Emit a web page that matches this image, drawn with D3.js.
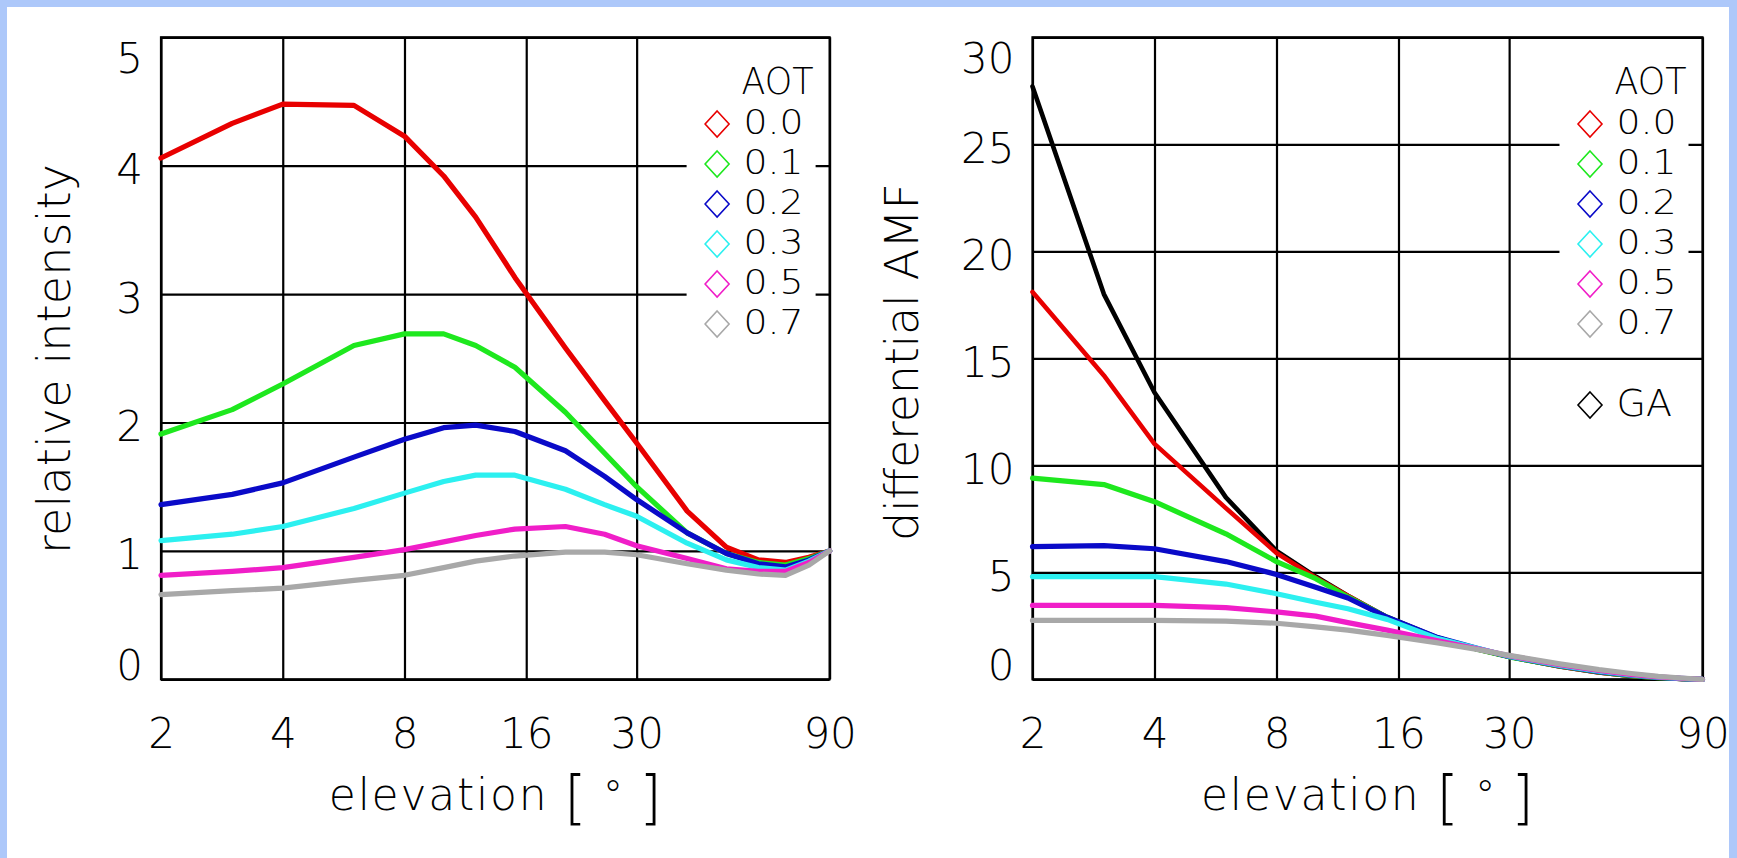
<!DOCTYPE html>
<html><head><meta charset="utf-8">
<script src="https://cdn.jsdelivr.net/npm/d3@7"></script>
<style>html,body{margin:0;padding:0;background:#fff;overflow:hidden}</style>
</head><body>
<svg id="c" width="1737" height="858"></svg>
<script>
// ---------- data ----------
const elevations = [2, 3, 4, 6, 8, 10, 12, 15, 20, 25, 30, 40, 50, 60, 70, 80, 90];
const xTickValues = [2, 4, 8, 16, 30, 90];
const aotLabels = ["0.0", "0.1", "0.2", "0.3", "0.5", "0.7"];
const aotColors = ["#e80000", "#1ee81e", "#0a0ac8", "#2cf0f0", "#f01ec8", "#a8a8a8"];

// left panel: relative intensity
const relInt_AOT00 = [4.06, 4.33, 4.48, 4.47, 4.23, 3.92, 3.60, 3.13, 2.58, 2.17, 1.84, 1.31, 1.03, 0.93, 0.91, 0.95, 1.00];
const relInt_AOT01 = [1.91, 2.10, 2.30, 2.60, 2.69, 2.69, 2.60, 2.43, 2.08, 1.76, 1.50, 1.14, 0.98, 0.91, 0.89, 0.94, 1.00];
const relInt_AOT02 = [1.36, 1.44, 1.53, 1.73, 1.87, 1.96, 1.98, 1.93, 1.78, 1.58, 1.40, 1.14, 0.98, 0.90, 0.875, 0.93, 1.00];
const relInt_AOT03 = [1.08, 1.13, 1.19, 1.33, 1.45, 1.54, 1.59, 1.59, 1.48, 1.36, 1.27, 1.06, 0.93, 0.87, 0.85, 0.92, 1.00];
const relInt_AOT05 = [0.81, 0.84, 0.87, 0.95, 1.01, 1.07, 1.12, 1.17, 1.19, 1.13, 1.04, 0.94, 0.86, 0.84, 0.84, 0.91, 1.00];
const relInt_AOT07 = [0.66, 0.69, 0.71, 0.77, 0.81, 0.87, 0.92, 0.96, 0.99, 0.99, 0.97, 0.90, 0.85, 0.82, 0.81, 0.89, 1.00];
const relIntTicks = [0, 1, 2, 3, 4, 5];

// right panel: differential AMF
const dAMF_GA    = [27.7, 18.0, 13.4, 8.5, 6.0, 4.8, 3.9, 2.9, 1.95, 1.4, 1.05, 0.6, 0.32, 0.16, 0.07, 0.02, 0];
const dAMF_AOT00 = [18.1, 14.2, 11.0, 8.0, 5.9, 4.75, 3.9, 2.9, 1.9, 1.4, 1.05, 0.6, 0.32, 0.16, 0.07, 0.02, 0];
const dAMF_AOT01 = [9.4, 9.1, 8.3, 6.8, 5.5, 4.7, 3.85, 2.9, 1.9, 1.4, 1.05, 0.62, 0.34, 0.17, 0.08, 0.03, 0];
const dAMF_AOT02 = [6.2, 6.25, 6.1, 5.5, 4.9, 4.3, 3.8, 2.9, 1.95, 1.45, 1.07, 0.64, 0.36, 0.19, 0.09, 0.03, 0];
const dAMF_AOT03 = [4.8, 4.8, 4.8, 4.45, 4.0, 3.6, 3.3, 2.8, 1.9, 1.45, 1.08, 0.65, 0.38, 0.2, 0.1, 0.04, 0];
const dAMF_AOT05 = [3.45, 3.45, 3.45, 3.35, 3.15, 2.95, 2.65, 2.3, 1.8, 1.43, 1.1, 0.68, 0.41, 0.23, 0.11, 0.05, 0];
const dAMF_AOT07 = [2.75, 2.75, 2.75, 2.72, 2.62, 2.45, 2.3, 2.05, 1.7, 1.4, 1.12, 0.72, 0.45, 0.27, 0.14, 0.06, 0];
const dAMFTicks = [0, 5, 10, 15, 20, 25, 30];

// ---------- drawing ----------
const W = 1737, H = 858, TOP = 37.3, BOTTOM = 679.3;
const FONT = "'DejaVu Sans', sans-serif";
const FS = 42, FS_LEG = 34, FS_TITLE = 46;
const svg = d3.select("#c");
svg.append("rect").attr("width", W).attr("height", H).attr("fill", "#fff");

function txt(sel, size) {
  return sel.attr("font-size", size).attr("font-family", FONT).attr("font-weight", 200).attr("fill", "#000");
}

function panel(cfg) {
  const g = svg.append("g");
  const x = d3.scaleLog().domain([2, 90]).range([cfg.left, cfg.right]);
  const y = d3.scaleLinear().domain([0, d3.max(cfg.yTicks)]).range([BOTTOM, TOP]);
  const maxT = d3.max(cfg.yTicks);

  // y axis + horizontal grid
  const ya = g.append("g").attr("transform", `translate(${cfg.left},0)`)
    .call(d3.axisLeft(y).tickValues(cfg.yTicks).tickSize(-(cfg.right - cfg.left)).tickPadding(18).tickFormat(d3.format("d")));
  ya.attr("font-size", null).attr("font-family", null);
  ya.select(".domain").remove();
  ya.selectAll(".tick line").attr("stroke", "#000").attr("stroke-width", 2.2);
  txt(ya.selectAll(".tick text"), FS)
    .attr("dy", d => d === maxT ? 35 : (d === 0 ? 0 : 18));

  // x axis + vertical grid
  const xa = g.append("g").attr("transform", `translate(0,${BOTTOM})`)
    .call(d3.axisBottom(x).tickValues(xTickValues).tickSize(-(BOTTOM - TOP)).tickFormat(d3.format("d")));
  xa.attr("font-size", null).attr("font-family", null);
  xa.select(".domain").remove();
  xa.selectAll(".tick line").attr("stroke", "#000").attr("stroke-width", 2.2);
  txt(xa.selectAll(".tick text"), FS).attr("y", 68.7).attr("dy", 0);

  // frame
  g.append("rect").attr("x", cfg.left).attr("y", TOP)
    .attr("width", cfg.right - cfg.left).attr("height", BOTTOM - TOP)
    .attr("fill", "none").attr("stroke", "#000").attr("stroke-width", 2.2);

  // lines
  const line = d3.line().x(d => x(d.e)).y(d => y(d.v));
  cfg.series.forEach(s => {
    const pts = elevations.map((e, i) => ({e, v: s.values[i]}));
    g.append("path").datum(pts).attr("d", line)
      .attr("fill", "none").attr("stroke", s.color).attr("stroke-width", s.width || 5.2)
      .attr("stroke-linejoin", "round").attr("stroke-linecap", "round");
  });

  // legend
  const R = cfg.right;
  g.append("rect").attr("x", R - 143).attr("y", 52).attr("width", 129).attr("height", 292).attr("fill", "#fff");
  const tx = R - 86;
  txt(g.append("text"), FS_LEG + 4).attr("x", R - 88).attr("y", 94).text("AOT")
    .attr("textLength", 72).attr("lengthAdjust", "spacingAndGlyphs");
  const diamond = (cx, cy, col) => {
    g.append("path").attr("d", `M${cx},${cy - 13}L${cx + 12},${cy}L${cx},${cy + 13}L${cx - 12},${cy}Z`)
      .attr("fill", "none").attr("stroke", col).attr("stroke-width", 1.6);
  };
  aotLabels.forEach((lab, i) => {
    const by = 134 + 40 * i;
    diamond(R - 112.5, by - 10, aotColors[i]);
    txt(g.append("text"), FS_LEG).attr("x", tx).attr("y", by).text(lab)
      .attr("textLength", 60).attr("lengthAdjust", "spacingAndGlyphs");
  });
  if (cfg.ga) {
    diamond(R - 112.5, 405, "#000");
    txt(g.append("text"), FS_LEG + 4).attr("x", tx).attr("y", 416).text("GA");
  }

  // axis titles
  txt(g.append("text"), FS_TITLE).attr("transform", `translate(${cfg.titleX},${cfg.titleY}) rotate(-90)`)
    .attr("text-anchor", "middle").text(cfg.title)
    .attr("textLength", cfg.titleLen).attr("lengthAdjust", "spacing");
  const xt = txt(g.append("text"), FS_TITLE - 2).attr("x", (cfg.left + cfg.right) / 2).attr("y", 810)
    .attr("text-anchor", "middle")
    .attr("textLength", 333).attr("lengthAdjust", "spacing");
  xt.append("tspan").text("elevation ");
  xt.append("tspan").attr("font-size", 58).attr("dy", 8).text("[");
  xt.append("tspan").attr("font-size", 40).attr("dy", -8).text(" ° ");
  xt.append("tspan").attr("font-size", 58).attr("dy", 8).text("]");
}

const relSeries = [relInt_AOT00, relInt_AOT01, relInt_AOT02, relInt_AOT03, relInt_AOT05, relInt_AOT07]
  .map((v, i) => ({values: v, color: aotColors[i]}));
const amfSeries = [{values: dAMF_GA, color: "#000", width: 4.6}].concat(
  [dAMF_AOT00, dAMF_AOT01, dAMF_AOT02, dAMF_AOT03, dAMF_AOT05, dAMF_AOT07].map((v, i) => ({values: v, color: aotColors[i], width: i === 0 ? 4.6 : 5.2})));

panel({left: 161, right: 829.6, yTicks: relIntTicks, series: relSeries, ga: false,
  title: "relative intensity", titleX: 70, titleY: 359, titleLen: 390});
panel({left: 1032.5, right: 1702.5, yTicks: dAMFTicks, series: amfSeries, ga: true,
  title: "differential AMF", titleX: 918, titleY: 362, titleLen: 358});

// blue frame around the page
const BLUE = "#adc8fa";
svg.append("rect").attr("x", 0).attr("y", 0).attr("width", W).attr("height", 7).attr("fill", BLUE);
svg.append("rect").attr("x", 0).attr("y", 0).attr("width", 7).attr("height", H).attr("fill", BLUE);
svg.append("rect").attr("x", 1729).attr("y", 0).attr("width", W - 1729).attr("height", H).attr("fill", BLUE);
</script>
</body></html>
